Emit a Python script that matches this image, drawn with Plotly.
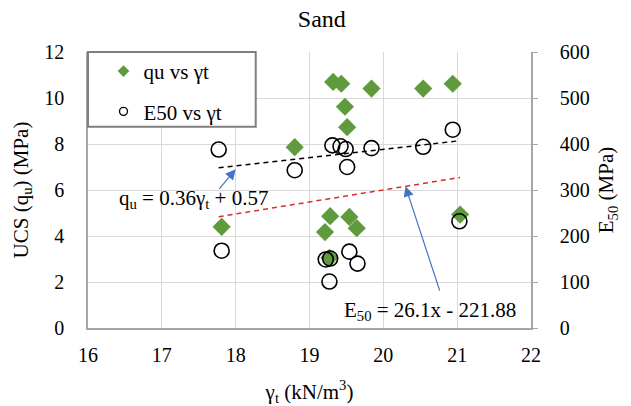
import plotly.graph_objects as go

# qu vs gamma_t (left axis, MPa)
gamma_qu = [17.81, 18.80, 19.32, 19.43, 19.84, 20.54, 20.94, 19.48, 19.51,
            19.28, 19.54, 19.21, 19.64, 19.27, 21.04]
qu = [4.40, 7.86, 10.70, 10.62, 10.41, 10.41, 10.62, 9.62, 8.73,
      4.86, 4.83, 4.17, 4.34, 3.05, 4.93]

# E50 vs gamma_t (right axis, MPa)
gamma_e50 = [17.77, 17.81, 18.80, 19.31, 19.42, 19.49, 19.84, 20.54, 20.94,
             19.51, 21.03, 19.22, 19.28, 19.54, 19.65, 19.27]
e50 = [388, 168, 343, 397, 395, 389, 391, 394, 431,
       350, 232, 149, 151, 166, 140, 101]

# trend line coefficients
qu_slope, qu_int = 0.36, 0.57
e_slope, e_int = 26.1, -221.88

x_ticks = [16, 17, 18, 19, 20, 21, 22]
y_ticks = [0, 2, 4, 6, 8, 10, 12]
y2_ticks = [0, 100, 200, 300, 400, 500, 600]

FONT = "Times New Roman, Liberation Serif, serif"
GREEN = "#5f9b3c"

fig = go.Figure()

fig.add_trace(go.Scatter(x=gamma_qu, y=qu, mode="markers", showlegend=False,
                         marker=dict(symbol="diamond", size=14, color=GREEN),
                         yaxis="y"))

qx = [min(gamma_qu + gamma_e50), max(gamma_qu)]
fig.add_trace(go.Scatter(x=qx, y=[qu_slope * v + qu_int for v in qx], mode="lines",
                         showlegend=False, line=dict(color="black", width=1.5, dash="5px,4px"),
                         yaxis="y"))

ex = [min(gamma_e50), max(gamma_e50 + gamma_qu)]
fig.add_trace(go.Scatter(x=ex, y=[e_slope * v + e_int for v in ex], mode="lines",
                         showlegend=False, line=dict(color="#e02b2b", width=1.5, dash="5px,4px"),
                         yaxis="y2"))

fig.add_trace(go.Scatter(x=gamma_e50, y=e50, mode="markers", showlegend=False,
                         marker=dict(symbol="circle-open", size=15, color="black",
                                     line=dict(width=1.6, color="black")),
                         yaxis="y2"))

# legend-only entries
fig.add_trace(go.Scatter(x=[None], y=[None], mode="markers", name="qu vs γt",
                         legendgroup="a",
                         marker=dict(symbol="diamond", size=9, color=GREEN)))
fig.add_trace(go.Scatter(x=[None], y=[None], mode="markers", name="E50 vs γt",
                         legendgroup="b",
                         marker=dict(symbol="circle-open", size=8, color="black",
                                     line=dict(width=1.3, color="black"))))

# arrows
ah_x = 18.0
fig.add_annotation(x=ah_x, y=qu_slope * ah_x + qu_int - 0.15, xref="x", yref="y",
                   ax=17.76, ay=5.98, axref="x", ayref="y", text="", showarrow=True,
                   arrowhead=2, arrowsize=1.7, arrowwidth=1.2, arrowcolor="#4472c4")
bh_x = 20.3
fig.add_annotation(x=bh_x, y=e_slope * bh_x + e_int, xref="x", yref="y2",
                   ax=20.77, ay=78, axref="x", ayref="y2", text="", showarrow=True,
                   arrowhead=2, arrowsize=1.7, arrowwidth=1.2, arrowcolor="#4472c4")

fig.add_annotation(x=17.43, y=5.63, xref="x", yref="y", showarrow=False,
                   text="q<sub>u</sub> = 0.36γ<sub>t</sub> + 0.57",
                   font=dict(family=FONT, size=21, color="black"))
fig.add_annotation(x=20.63, y=36.5, xref="x", yref="y2", showarrow=False,
                   text="E<sub>50</sub> = 26.1x - 221.88",
                   font=dict(family=FONT, size=21, color="black"))

# legend box
fig.add_shape(type="rect", xref="paper", yref="paper", x0=0, x1=0.3786, y0=0.729, y1=1,
              line=dict(color="#7f7f7f", width=2), fillcolor="white", layer="above")

fig.update_layout(
    width=631, height=406,
    margin=dict(l=88, r=100, t=52, b=78),
    paper_bgcolor="white", plot_bgcolor="white",
    font=dict(family=FONT, size=20, color="black"),
    title=dict(text="Sand", x=0.51, xref="container", xanchor="center",
               y=0.953, yref="container", yanchor="middle", automargin=False,
               font=dict(family=FONT, size=24, color="black")),
    xaxis=dict(range=[16, 22], tickvals=x_ticks, ticktext=[str(v) for v in x_ticks],
               showgrid=True, gridcolor="#d9d9d9", gridwidth=1, automargin=False,
               showline=True, linecolor="#a6a6a6", linewidth=1.5, ticks="",
               ticklabelstandoff=8, zeroline=False,
               title=dict(text="γ<sub>t</sub> (kN/m<sup>3</sup>)", standoff=20,
                          font=dict(family=FONT, size=21))),
    yaxis=dict(range=[0, 12], tickvals=y_ticks, ticktext=[str(v) for v in y_ticks],
               showgrid=True, gridcolor="#d9d9d9", gridwidth=1, automargin=False,
               showline=True, linecolor="#a6a6a6", linewidth=1.5, ticks="",
               ticklabelstandoff=18, zeroline=False,
               title=dict(text="UCS (q<sub>u</sub>) (MPa)", standoff=10,
                          font=dict(family=FONT, size=21))),
    yaxis2=dict(range=[0, 600], tickvals=y2_ticks, ticktext=[str(v) for v in y2_ticks],
                overlaying="y", side="right", showgrid=False, zeroline=False,
                showline=True, linecolor="#a6a6a6", linewidth=1.5, automargin=False,
                ticks="outside", ticklen=5, tickcolor="#a6a6a6", ticklabelstandoff=18,
                title=dict(text="E<sub>50</sub> (MPa)", standoff=10,
                           font=dict(family=FONT, size=21))),
    legend=dict(x=0.035, y=1.004, xanchor="left", yanchor="top",
                bgcolor="rgba(0,0,0,0)", borderwidth=0, tracegroupgap=10,
                font=dict(family=FONT, size=21, color="black")),
)

fig.write_html("out.html", config={"displayModeBar": False},
               post_script="document.body.style.margin='0';")
